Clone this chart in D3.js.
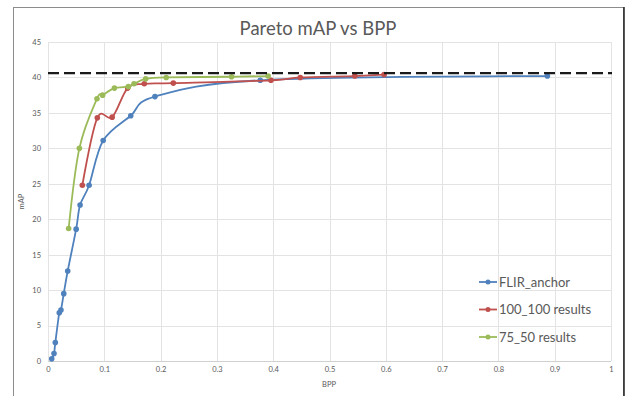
<!DOCTYPE html>
<html>
<head>
<meta charset="utf-8">
<script src="https://cdn.jsdelivr.net/npm/d3@7"></script>
<style>
  body { margin: 0; background: #fff; }
  svg { display: block; font-family: Lato, "Liberation Sans", sans-serif; }
</style>
</head>
<body>
<svg id="chart" width="629" height="396"></svg>
<script>
// values
const flirBpp = [0.0066, 0.0107, 0.013, 0.020, 0.023, 0.028, 0.035, 0.050, 0.057, 0.073, 0.098, 0.147, 0.190, 0.377, 0.887];
const flirMap = [0.3, 1.05, 2.6, 6.8, 7.2, 9.5, 12.7, 18.6, 22.0, 24.8, 31.1, 34.6, 37.3, 39.6, 40.2];

const r100Bpp = [0.061, 0.0876, 0.114, 0.1415, 0.171, 0.2226, 0.396, 0.448, 0.545, 0.597];
const r100Map = [24.8, 34.3, 34.4, 38.5, 39.1, 39.2, 39.6, 40.0, 40.2, 40.4];

const r75Bpp = [0.0367, 0.0557, 0.087, 0.097, 0.118, 0.1427, 0.1528, 0.1735, 0.210, 0.326, 0.391];
const r75Map = [18.7, 30.0, 37.0, 37.5, 38.5, 38.7, 39.1, 39.8, 40.0, 40.1, 40.2];

const seriesNames = ['FLIR_anchor', '100_100 results', '75_50 results'];
const seriesColors = ['#4f81bd', '#c0504d', '#9bbb59'];
const baseline = 40.6;

const xTicks = [0, 0.1, 0.2, 0.3, 0.4, 0.5, 0.6, 0.7, 0.8, 0.9, 1];
const yTicks = [0, 5, 10, 15, 20, 25, 30, 35, 40, 45];

const svg = d3.select('#chart');

const x = d3.scaleLinear().domain([0, 1]).range([48, 611]);
const y = d3.scaleLinear().domain([0, 45]).range([361, 42]);

// outer chart frame (runs off the bottom of the picture)
svg.append('rect')
  .attr('x', 13.5).attr('y', 7.5)
  .attr('width', 610).attr('height', 420)
  .attr('fill', 'none')
  .attr('stroke', '#8c8c8c')
  .attr('stroke-width', 1);
svg.append('line')
  .attr('x1', 624).attr('x2', 624).attr('y1', 7).attr('y2', 396)
  .attr('stroke', '#222').attr('stroke-width', 1.5);

svg.append('text')
  .attr('x', 318).attr('y', 35)
  .attr('text-anchor', 'middle')
  .attr('font-size', 18.5)
  .attr('fill', '#595959')
  .text('Pareto mAP vs BPP');

// grid
const grid = svg.append('g');
grid.selectAll('.hgrid')
  .data(yTicks)
  .enter().append('line')
  .attr('x1', x(0)).attr('x2', x(1))
  .attr('y1', d => Math.round(y(d)) + 0.5).attr('y2', d => Math.round(y(d)) + 0.5)
  .attr('stroke', '#e3e3e3');
grid.selectAll('.vgrid')
  .data(xTicks)
  .enter().append('line')
  .attr('y1', y(0)).attr('y2', y(45))
  .attr('x1', d => Math.round(x(d)) + 0.5).attr('x2', d => Math.round(x(d)) + 0.5)
  .attr('stroke', '#e3e3e3');

// axes, drawn with d3 then stripped of their lines
const xAxis = svg.append('g')
  .attr('transform', 'translate(0,' + y(0) + ')')
  .call(d3.axisBottom(x).tickValues(xTicks).tickSize(0).tickPadding(6).tickFormat(d3.format('')));
const yAxis = svg.append('g')
  .attr('transform', 'translate(' + x(0) + ',0)')
  .call(d3.axisLeft(y).tickValues(yTicks).tickSize(0).tickPadding(7));
[xAxis, yAxis].forEach(a => {
  a.select('.domain').remove();
  a.selectAll('text')
    .attr('font-size', 7.5)
    .attr('fill', '#595959')
    .attr('font-family', 'Lato, "Liberation Sans", sans-serif');
});
xAxis.select('.domain').remove();
svg.append('line')
  .attr('x1', x(0)).attr('x2', x(1))
  .attr('y1', Math.round(y(0)) + 0.5).attr('y2', Math.round(y(0)) + 0.5)
  .attr('stroke', '#d0d0d0');

svg.append('text')
  .attr('x', 329).attr('y', 387)
  .attr('text-anchor', 'middle')
  .attr('font-size', 7.5)
  .attr('fill', '#595959')
  .text('BPP');
svg.append('text')
  .attr('transform', 'translate(24,' + y(22.5) + ') rotate(-90)')
  .attr('text-anchor', 'middle')
  .attr('font-size', 7.5)
  .attr('fill', '#595959')
  .text('mAP');

// series
const series = [
  flirBpp.map((b, i) => [b, flirMap[i]]),
  r100Bpp.map((b, i) => [b, r100Map[i]]),
  r75Bpp.map((b, i) => [b, r75Map[i]])
];

const line = d3.line()
  .x(d => x(d[0]))
  .y(d => y(d[1]))
  .curve(d3.curveCardinal.tension(0));

series.forEach((pts, k) => {
  svg.append('path')
    .datum(pts)
    .attr('fill', 'none')
    .attr('stroke', seriesColors[k])
    .attr('stroke-width', 1.8)
    .attr('d', line);
  svg.append('g').selectAll('circle')
    .data(pts)
    .enter().append('circle')
    .attr('cx', d => x(d[0]))
    .attr('cy', d => y(d[1]))
    .attr('r', 2.8)
    .attr('fill', seriesColors[k]);
});

// reference line
svg.append('line')
  .attr('x1', x(0)).attr('x2', x(1) + 1)
  .attr('y1', y(baseline)).attr('y2', y(baseline))
  .attr('stroke', '#1a1a1a')
  .attr('stroke-width', 2.2)
  .attr('stroke-dasharray', '11,5');

// legend
const legend = svg.append('g')
  .selectAll('g')
  .data(seriesNames)
  .enter().append('g')
  .attr('transform', (d, i) => 'translate(479,' + (282 + i * 27.5) + ')');
legend.append('line')
  .attr('x1', 0).attr('x2', 18)
  .attr('stroke', (d, i) => seriesColors[i])
  .attr('stroke-width', 1.8);
legend.append('circle')
  .attr('cx', 9).attr('r', 2.5)
  .attr('fill', (d, i) => seriesColors[i]);
legend.append('text')
  .attr('x', 20).attr('y', 4.5)
  .attr('font-size', 13)
  .attr('fill', '#595959')
  .text(d => d);
</script>
</body>
</html>
